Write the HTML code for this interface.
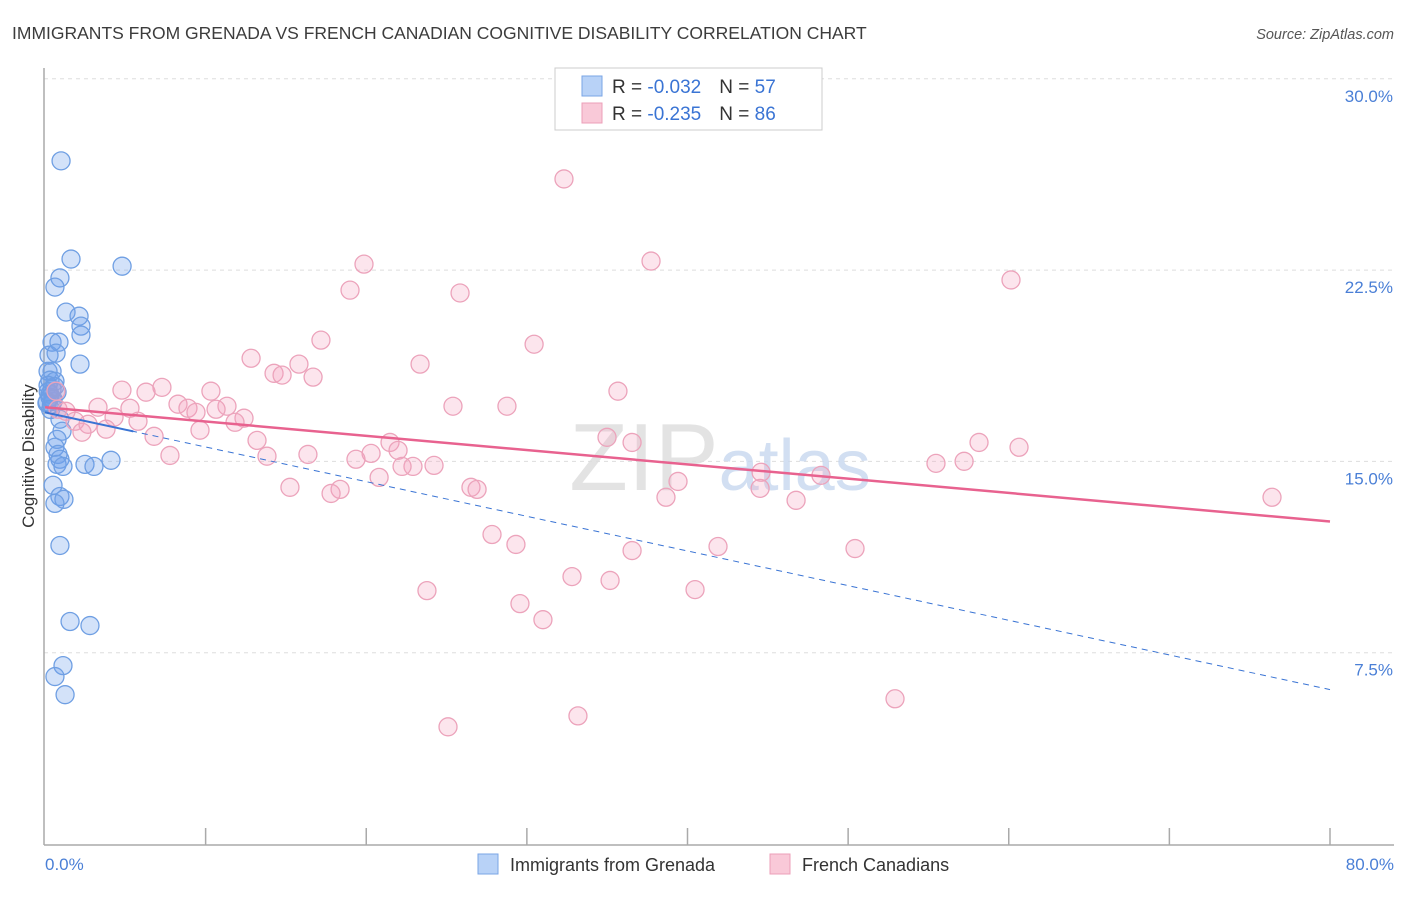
<!DOCTYPE html>
<html><head><meta charset="utf-8"><style>
body{margin:0;background:#fff;font-family:"Liberation Sans",sans-serif}
svg text{font-family:"Liberation Sans",sans-serif}
</style></head><body>
<svg id="chart" width="1406" height="892" xmlns="http://www.w3.org/2000/svg">
<text x="12" y="39" font-size="17.5" fill="#3c3c3c">IMMIGRANTS FROM GRENADA VS FRENCH CANADIAN COGNITIVE DISABILITY CORRELATION CHART</text>
<text x="1394" y="39" font-size="14.5" fill="#555" font-style="italic" text-anchor="end">Source: ZipAtlas.com</text>
<g id="grid"></g>
<text x="720" y="490" font-size="96" fill="#ddd" text-anchor="middle" font-family="Liberation Serif" opacity="0.8">ZIP<tspan fill="#c8d8ef" font-family="Liberation Sans" font-size="72">atlas</tspan></text>
<line x1="44" y1="68" x2="44" y2="845" stroke="#aaa" stroke-width="1.5"/>
<line x1="44" y1="845" x2="1394" y2="845" stroke="#aaa" stroke-width="1.5"/>
<text transform="translate(34,456) rotate(-90)" font-size="17" fill="#333" text-anchor="middle">Cognitive Disability</text>
<text x="45" y="870" font-size="17" fill="#4a7fd6">0.0%</text>
<text x="1394" y="870" font-size="17" fill="#4a7fd6" text-anchor="end">80.0%</text>
<g id="points"></g>
<g id="lines"></g>
<g>
<rect x="555" y="68" width="267" height="62" fill="#fff" stroke="#ccc"/>
<rect x="582" y="76" width="20" height="20" fill="#b8d2f7" stroke="#7aa5e6"/>
<rect x="582" y="103" width="20" height="20" fill="#f9c9d8" stroke="#ec9fb8"/>
<text x="612" y="93" font-size="19" fill="#333">R = <tspan fill="#3a74d4">-0.032</tspan><tspan dx="18">N = </tspan><tspan fill="#3a74d4">57</tspan></text>
<text x="612" y="120" font-size="19" fill="#333">R = <tspan fill="#3a74d4">-0.235</tspan><tspan dx="18">N = </tspan><tspan fill="#3a74d4">86</tspan></text>
</g>
<g>
<rect x="478" y="854" width="20" height="20" fill="#b8d2f7" stroke="#7aa5e6"/>
<text x="510" y="871" font-size="18" fill="#333">Immigrants from Grenada</text>
<rect x="770" y="854" width="20" height="20" fill="#f9c9d8" stroke="#ec9fb8"/>
<text x="802" y="871" font-size="18" fill="#333">French Canadians</text>
</g>
</svg>
<script>
const yTicks=[7.5,15,22.5,30];
const yTickLabels=["7.5%","15.0%","22.5%","30.0%"];
const xTicks=[10,20,30,40,50,60,70,80];
const blueX=[1.0,1.62,4.8,0.93,0.62,1.31,2.12,2.24,2.24,2.18,0.44,0.87,0.25,0.69,0.19,0.44,0.31,0.62,0.19,0.44,0.75,0.31,0.5,0.12,0.93,1.06,0.75,0.62,0.81,0.93,0.75,1.12,2.49,3.05,4.11,0.5,0.93,1.18,0.62,0.93,1.56,2.8,1.12,0.62,1.25,0.3,0.5,0.2,0.4,0.6,0.35,0.15];
const blueY=[27.45,23.6,23.32,22.86,22.5,21.52,21.36,20.97,20.62,19.48,20.34,20.34,19.83,19.91,19.2,19.2,18.85,18.81,18.65,18.5,18.38,18.18,18.02,17.95,17.32,16.85,16.53,16.22,15.94,15.75,15.55,15.47,15.55,15.47,15.71,14.73,14.29,14.18,14.02,12.37,9.39,9.23,7.66,7.23,6.52,18.3,18.1,18.4,17.9,18.6,17.7,18.0];
const pinkX=[39.04,32.31,37.73,19.86,60.14,18.99,25.84,17.18,30.45,12.83,23.35,15.81,14.26,14.76,16.69,35.67,4.79,7.28,6.29,10.33,0.68,8.28,8.9,3.3,5.29,11.33,10.65,0.81,1.31,25.4,28.76,9.4,12.39,11.83,4.3,5.79,1.87,2.68,3.8,9.65,2.3,6.79,34.99,36.55,21.48,13.2,58.15,60.64,21.98,20.3,13.82,16.37,7.78,19.36,22.91,22.23,24.22,55.47,57.22,44.58,48.31,20.8,39.41,15.25,26.52,26.9,18.37,17.81,44.52,46.76,38.66,76.39,27.83,29.32,41.9,36.55,50.43,32.81,35.18,23.78,40.47,29.57,31.0,52.92,33.18,25.09];
const pinkY=[30.2,26.74,23.52,23.4,22.78,22.38,22.27,20.42,20.26,19.71,19.48,19.48,19.12,19.05,18.97,18.42,18.46,18.57,18.38,18.42,18.42,17.91,17.75,17.79,17.75,17.83,17.71,17.71,17.63,17.83,17.83,17.59,17.36,17.2,17.4,17.24,17.24,17.12,16.93,16.89,16.81,16.65,16.61,16.41,16.41,16.49,16.41,16.22,16.1,15.98,15.87,15.94,15.9,15.75,15.47,15.47,15.51,15.59,15.67,15.24,15.12,15.04,14.88,14.65,14.65,14.57,14.57,14.41,14.61,14.14,14.26,14.26,12.8,12.41,12.33,12.17,12.25,11.15,11.0,10.6,10.64,10.09,9.46,6.36,5.69,5.26];
const blueTrend=[17.59,6.72];
const pinkTrend=[17.79,13.31];
const NS="http://www.w3.org/2000/svg";
function xs(v){return 45+v*1285/80;}
function ys(v){return 861-v*191.3/7.5;}
function mk(t,a,p){const e=document.createElementNS(NS,t);for(const k in a)e.setAttribute(k,a[k]);p.appendChild(e);return e;}
const grid=document.getElementById('grid');
yTicks.forEach((t,i)=>{
  const l=mk('line',{x1:44,x2:1394,y1:ys(t)-17,y2:ys(t)-17,stroke:'#ddd','stroke-dasharray':'4,4'},grid);
  
  
  const tx=mk('text',{x:1393,y:ys(t)+6,'font-size':17,fill:'#4a7fd6','text-anchor':'end'},grid);
  tx.textContent=yTickLabels[i];
  
  
});
xTicks.forEach(t=>{
  const l=mk('line',{x1:xs(t),x2:xs(t),y1:828,y2:845,stroke:'#aaa','stroke-width':1.5},grid);
  
  
});
const pts=document.getElementById('points');
blueX.forEach((x,i)=>{
  const c=mk('circle',{cx:xs(x),cy:ys(blueY[i]),r:9,fill:'rgba(110,160,235,0.3)',stroke:'#6f9fe3','stroke-width':1.3},pts);
  
  
});
pinkX.forEach((x,i)=>{
  const c=mk('circle',{cx:xs(x),cy:ys(pinkY[i]),r:9,fill:'rgba(245,160,190,0.28)',stroke:'#eca3bb','stroke-width':1.3},pts);
  
  
});
const ln=document.getElementById('lines');
const bs=mk('line',{x1:xs(0),y1:ys(blueTrend[0]),x2:xs(5.5),y2:ys(blueTrend[0]+(blueTrend[1]-blueTrend[0])*5.5/80),stroke:'#3a74d4','stroke-width':2},ln);


const bd=mk('line',{x1:xs(0),y1:ys(blueTrend[0]),x2:xs(80),y2:ys(blueTrend[1]),stroke:'#3a74d4','stroke-width':1,'stroke-dasharray':'6,5'},ln);


const pl=mk('line',{x1:xs(0),y1:ys(pinkTrend[0]),x2:xs(80),y2:ys(pinkTrend[1]),stroke:'#e8628f','stroke-width':2.5},ln);


</script>
</body></html>
